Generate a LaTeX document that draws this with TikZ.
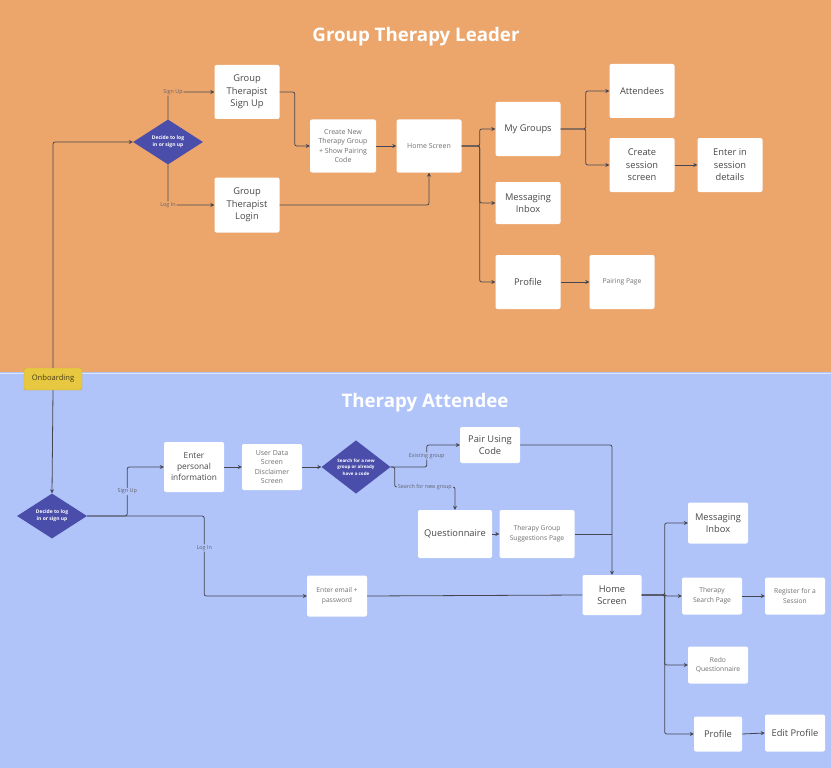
\documentclass[tikz,border=0pt]{standalone}
\usepackage{fontspec}
\setmainfont{Open Sans}
\usetikzlibrary{arrows.meta, shapes.geometric}

\definecolor{leaderbg}{RGB}{236,166,108}
\definecolor{attendbg}{RGB}{176,196,250}
\definecolor{decide}{RGB}{74,78,170}
\definecolor{onboard}{RGB}{232,200,64}
\definecolor{wire}{RGB}{70,70,80}
\definecolor{faint}{RGB}{112,112,112}

\tikzset{
    screen/.style 2 args={fill=white, rounded corners=2pt, align=center, text=black!72,
        inner sep=1pt, minimum width=#1, minimum height=#2, font=\fontsize{9.3}{12.5}\selectfont},
    note/.style={text=faint, font=\fontsize{7}{9.6}\selectfont},
    fine/.style={text=faint, font=\fontsize{6.7}{9.6}\selectfont},
    decision/.style={diamond, fill=decide, text=white, align=center, inner sep=0pt,
        minimum width=70, minimum height=45, font=\bfseries\fontsize{5}{7}\selectfont},
    flow/.style={draw=wire, line width=0.8pt, rounded corners=2pt, -{Stealth[length=4pt,width=4pt]}},
    wireline/.style={draw=wire, line width=0.8pt, rounded corners=2pt},
    branch/.style={text=wire!85, inner sep=1pt, font=\fontsize{5.4}{6.5}\selectfont},
    title/.style={text=white, font=\bfseries\fontsize{18.7}{22}\selectfont}
}

\begin{document}
\begin{tikzpicture}[x=1pt, y=-1pt]
    \useasboundingbox (0,0) rectangle (831,768);

    % swim lanes
    \fill[leaderbg] (0,0) rectangle (831,372);
    \fill[attendbg] (0,372) rectangle (831,768);
    \draw[white!55!attendbg, line width=1pt] (0,373) -- (831,373);

    \node[title] (lead) at (416,37) {Group Therapy Leader};
    \node[title] (attend) at (425,403) {Therapy Attendee};

    % onboarding
    \node[fill=onboard, draw=onboard!85!black, line width=0.4pt, rounded corners=2pt,
        minimum width=58, minimum height=22, inner sep=0pt, text=black!70!onboard,
        font=\fontsize{7.6}{9}\selectfont] (onb) at (53,379) {Onboarding};

    % leader screens
    \node[decision] (dec1) at (168,142) {Decide to log\\in or sign up};
    \node[screen={65}{54}] (signup) at (247,92) {Group\\Therapist\\Sign Up};
    \node[screen={65}{55}] (login) at (247,205) {Group\\Therapist\\Login};
    \node[screen={66}{53}, note] (create) at (343,146) {Create New\\Therapy Group\\+ Show Pairing\\Code};
    \node[screen={65}{53}, note] (home1) at (429,146) {Home Screen};
    \node[screen={65}{54}] (groups) at (528,129) {My Groups};
    \node[screen={65}{42}] (inbox1) at (528,203) {Messaging\\Inbox};
    \node[screen={65}{54}] (prof1) at (528,282) {Profile};
    \node[screen={65}{54}, fine] (pairing) at (622,282) {Pairing Page};
    \node[screen={65}{54}] (attendees) at (642,91) {Attendees};
    \node[screen={65}{54}] (session) at (642,165) {Create\\session\\screen};
    \node[screen={65}{54}] (details) at (730,165) {Enter in\\session\\details};

    % leader connectors
    \draw[flow] (onb.north) |- (dec1.west);
    \draw[flow] (dec1.north) |- node[branch, fill=leaderbg, pos=0.5, xshift=5]{Sign Up} (signup.west);
    \draw[flow] (dec1.south) |- node[branch, fill=leaderbg, pos=0.5]{Log In} (login.west);
    \draw[flow] (signup.east) -- ++(15,0) |- (create.west);
    \draw[flow] (login.east) -| (home1.south);
    \foreach \a/\b in {create/home1, session/details, prof1/pairing}
    {
        \draw[flow] (\a.east) -- (\b.west);
    }
    \foreach \b in {groups, inbox1, prof1}
    {
        \draw[flow] (home1.east) -- ++(18,0) |- (\b.west);
    }
    \foreach \b in {attendees, session}
    {
        \draw[flow] (groups.east) -- ++(25,0) |- (\b.west);
    }

    % attendee screens
    \node[decision] (dec2) at (52,516) {Decide to log\\in or sign up};
    \node[screen={60}{50}, font=\fontsize{8.3}{11}\selectfont] (personal) at (194,467) {Enter\\personal\\information};
    \node[screen={60}{46}, note] (userdata) at (272,467) {User Data\\Screen\\Disclaimer\\Screen};
    \node[decision, minimum width=69, font=\bfseries\fontsize{4.5}{6.3}\selectfont] (dec3) at (356,467) {Search for a new\\group or already\\have a code};
    \node[screen={60}{36}] (pair) at (490,445) {Pair Using\\Code};
    \node[screen={74}{48}] (quest) at (455,534) {Questionnaire};
    \node[screen={75}{48}, fine] (suggest) at (537,534) {Therapy Group\\Suggestions Page};
    \node[screen={60}{41}, fine] (email) at (337,596) {Enter email +\\password};
    \node[screen={59}{40}] (home2) at (612,595) {Home\\Screen};
    \node[screen={60}{41}] (inbox2) at (718,523) {Messaging\\Inbox};
    \node[screen={60}{37}, fine] (search) at (712,596) {Therapy\\Search Page};
    \node[screen={60}{37}, fine] (register) at (795,596) {Register for a\\Session};
    \node[screen={60}{37}, fine] (redo) at (718,665) {Redo\\Questionnaire};
    \node[screen={48}{35}] (prof2) at (718,734) {Profile};
    \node[screen={60}{37}] (edit) at (795,733) {Edit Profile};
    \coordinate (srch) at (455,487);

    % attendee connectors
    \draw[flow] (onb.south) -- (dec2.north);
    \draw[flow] (dec2.east) -- ++(40,0) |- node[branch, fill=attendbg, pos=0.25]{Sign Up} (personal.west);
    \draw[flow] (dec2.east) -- ++(117,0) |- node[branch, fill=attendbg, pos=0.2]{Log In} (email.west);
    \draw[flow] (dec3.east) -- ++(36,0) |- node[branch, fill=attendbg, pos=0.25]{Existing group} (pair.west);
    \draw[flow] (dec3.east) -- ++(4,0) |- node[branch, fill=attendbg, pos=0.75]{Search for new group} (srch) -- (quest.north);
    \draw[flow] (pair.east) -| (home2.north);
    \draw[wireline] (suggest.east) -- (suggest.east -| home2.north);
    \draw[wireline] (email.east) -- (home2.west);
    \foreach \a/\b in {personal/userdata, userdata/dec3, quest/suggest, search/register, prof2/edit}
    {
        \draw[flow] (\a.east) -- (\b.west);
    }
    \foreach \b in {inbox2, search, redo, prof2}
    {
        \draw[flow] (home2.east) -- ++(23,0) |- (\b.west);
    }
\end{tikzpicture}
\end{document}
